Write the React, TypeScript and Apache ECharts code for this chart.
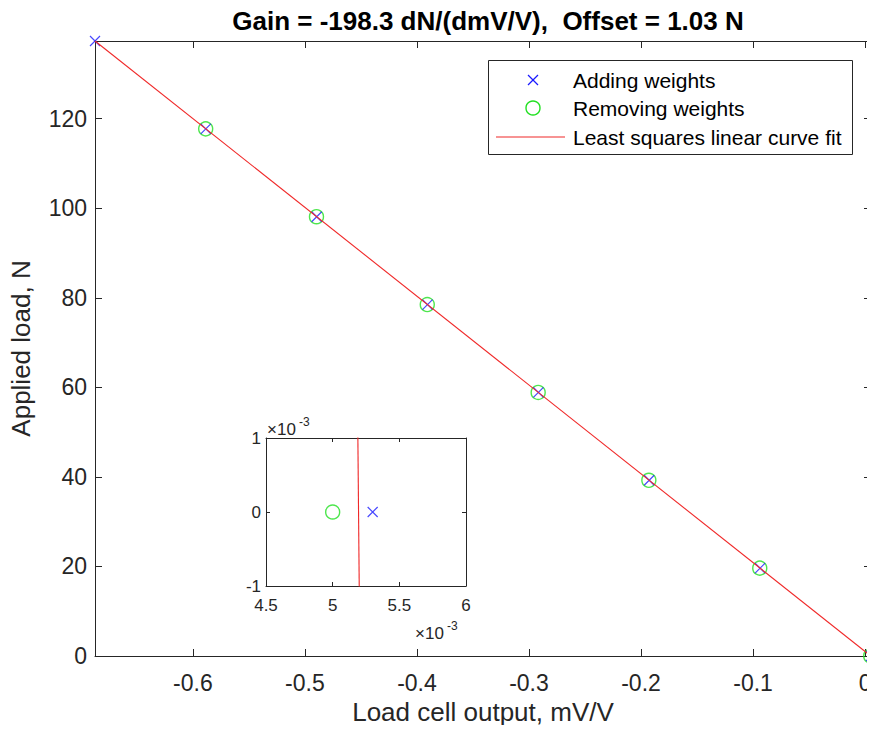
import React, { useEffect, useRef } from "react";
import * as echarts from "echarts";

// ---- data ----
const addX = [0.0053, -0.0937, -0.1927, -0.2916, -0.3906, -0.4895, -0.5885, -0.6874];
const addY = [0, 19.62, 39.24, 58.86, 78.48, 98.1, 117.72, 137.34];
const remX = [0.005, -0.094, -0.193, -0.2918, -0.3908, -0.4897, -0.5886];
const remY = [0, 19.62, 39.24, 58.86, 78.48, 98.1, 117.72];
const fitX = [-0.6874, 0.0053];
const fitY = [137.34, -0.021];

const mainXTicks = [-0.6, -0.5, -0.4, -0.3, -0.2, -0.1, 0];
const mainYTicks = [0, 20, 40, 60, 80, 100, 120];
const insetXTicks = [4.5, 5, 5.5, 6];
const insetYTicks = [-1, 0, 1];
const insetScale = 1e-3;

const titleText = "Gain = -198.3 dN/(dmV/V),  Offset = 1.03 N";
const xName = "Load cell output, mV/V";
const yName = "Applied load, N";
const seriesNames = ["Adding weights", "Removing weights", "Least squares linear curve fit"];
const expBase = "×10";
const expPow = "-3";

const FONT = "'Liberation Sans', Arial, Helvetica, sans-serif";
const AX = "#262626";
const BLUE = "#1a1aff";
const GREEN = "#22e022";
const RED = "#f02828";
const XSYM = "path://M0,0L10,10M10,0L0,10";

const pairs = (xs: number[], ys: number[]) => xs.map((x, i) => [x, ys[i]]);
const pick = (ticks: number[], scale = 1) => (v: number) => {
  const s = v / scale;
  const t = ticks.find((k) => Math.abs(k - s) < 1e-6);
  return t === undefined ? "" : String(t);
};

export default function App() {
  const ref = useRef<HTMLDivElement>(null);
  useEffect(() => {
    if (!ref.current) return;
    const chart = echarts.init(ref.current, null, { renderer: "svg" });

    const mainX = { min: Math.min(...addX), max: Math.max(...addX) };
    const mainY = { min: 0, max: Math.max(...addY) };
    const insetX = { min: insetXTicks[0] * insetScale, max: insetXTicks[insetXTicks.length - 1] * insetScale };
    const insetY = { min: insetYTicks[0] * insetScale, max: insetYTicks[insetYTicks.length - 1] * insetScale };

    const axLine = { show: true, onZero: false, lineStyle: { color: AX, width: 1 } };
    const mainTick = { show: true, inside: true, length: 7, lineStyle: { color: AX } };
    const insetTick = { show: true, inside: true, length: 4, lineStyle: { color: AX } };

    const scatterAdd = (xi: number, yi: number, size: number) => ({
      type: "scatter",
      name: seriesNames[0],
      xAxisIndex: xi,
      yAxisIndex: yi,
      data: pairs(addX, addY),
      symbol: XSYM,
      symbolSize: size,
      itemStyle: { color: "rgba(0,0,0,0)", borderColor: BLUE, borderWidth: 1.2 },
      clip: true,
      z: 3,
    });
    const scatterRem = (xi: number, yi: number, size: number) => ({
      type: "scatter",
      name: seriesNames[1],
      xAxisIndex: xi,
      yAxisIndex: yi,
      data: pairs(remX, remY),
      symbol: "circle",
      symbolSize: size,
      itemStyle: { color: "rgba(0,0,0,0)", borderColor: GREEN, borderWidth: 1.4 },
      clip: true,
      z: 2,
    });
    const fitLine = (xi: number, yi: number) => ({
      type: "line",
      name: seriesNames[2],
      xAxisIndex: xi,
      yAxisIndex: yi,
      data: pairs(fitX, fitY),
      showSymbol: false,
      symbol: "none",
      lineStyle: { color: RED, width: 1.1 },
      clip: true,
      z: 4,
    });

    const expLabel = (x: number, y: number) => [
      { type: "text", x, y, z: 100, style: { text: expBase, fontSize: 17, fontFamily: FONT, fill: AX, verticalAlign: "middle" } },
      { type: "text", x: x + 32, y: y - 7, z: 100, style: { text: expPow, fontSize: 12, fontFamily: FONT, fill: AX, verticalAlign: "middle" } },
    ];

    const lx = 488, ly = 60;
    chart.setOption({
      animation: false,
      backgroundColor: "#ffffff",
      textStyle: { fontFamily: FONT },
      title: {
        text: titleText,
        left: 483,
        top: 3,
        textAlign: "center",
        textStyle: { fontFamily: FONT, fontSize: 26, fontWeight: "bold", color: "#000" },
      },
      grid: [
        { left: 95, top: 41, width: 776, height: 615, containLabel: false },
        { left: 266, top: 438, width: 200, height: 148, containLabel: false, show: true, backgroundColor: "#fff", borderWidth: 0, z: 5 },
      ],
      xAxis: [
        {
          type: "value", gridIndex: 0, position: "bottom", ...mainX, splitNumber: 7,
          axisLine: axLine, axisTick: mainTick, splitLine: { show: false },
          axisLabel: { fontSize: 23, color: AX, margin: 15, formatter: pick(mainXTicks), showMinLabel: false },
          name: xName, nameLocation: "middle", nameGap: 33,
          nameTextStyle: { fontSize: 26, color: AX, fontFamily: FONT },
        },
        {
          type: "value", gridIndex: 0, position: "top", ...mainX, splitNumber: 7,
          axisLine: axLine, axisTick: mainTick, splitLine: { show: false }, axisLabel: { show: false },
        },
        {
          type: "value", gridIndex: 1, position: "bottom", ...insetX, interval: 0.5 * insetScale,
          axisLine: axLine, axisTick: insetTick, splitLine: { show: false },
          axisLabel: { fontSize: 17, color: AX, margin: 11, formatter: pick(insetXTicks, insetScale) },
          z: 6,
        },
        {
          type: "value", gridIndex: 1, position: "top", ...insetX, interval: 0.5 * insetScale,
          axisLine: axLine, axisTick: insetTick, splitLine: { show: false }, axisLabel: { show: false }, z: 6,
        },
      ],
      yAxis: [
        {
          type: "value", gridIndex: 0, position: "left", ...mainY, splitNumber: 7,
          axisLine: axLine, axisTick: mainTick, splitLine: { show: false },
          axisLabel: { fontSize: 23, color: AX, margin: 8, formatter: pick(mainYTicks) },
          name: yName, nameLocation: "middle", nameGap: 61,
          nameTextStyle: { fontSize: 26, color: AX, fontFamily: FONT },
        },
        {
          type: "value", gridIndex: 0, position: "right", ...mainY, splitNumber: 7,
          axisLine: axLine, axisTick: mainTick, splitLine: { show: false }, axisLabel: { show: false },
        },
        {
          type: "value", gridIndex: 1, position: "left", ...insetY, interval: 1 * insetScale,
          axisLine: axLine, axisTick: insetTick, splitLine: { show: false },
          axisLabel: { fontSize: 17, color: AX, margin: 5, formatter: pick(insetYTicks, insetScale) },
          z: 6,
        },
        {
          type: "value", gridIndex: 1, position: "right", ...insetY, interval: 1 * insetScale,
          axisLine: axLine, axisTick: insetTick, splitLine: { show: false }, axisLabel: { show: false }, z: 6,
        },
      ],
      series: [
        scatterAdd(0, 0, 10),
        scatterRem(0, 0, 14),
        fitLine(0, 0),
        { ...scatterAdd(2, 2, 10), z: 7 },
        { ...scatterRem(2, 2, 14), z: 7 },
        { ...fitLine(2, 2), z: 7 },
      ],
      graphic: [
        {
          type: "group", x: lx, y: ly, z: 100,
          children: [
            { type: "rect", shape: { x: 0.5, y: 0.5, width: 364, height: 94 }, style: { fill: "#fff", stroke: AX, lineWidth: 1 } },
            { type: "line", shape: { x1: 40, y1: 15, x2: 50, y2: 25 }, style: { stroke: BLUE, lineWidth: 1.2 } },
            { type: "line", shape: { x1: 50, y1: 15, x2: 40, y2: 25 }, style: { stroke: BLUE, lineWidth: 1.2 } },
            { type: "text", x: 85, y: 20, style: { text: seriesNames[0], fontSize: 21, fontFamily: FONT, fill: "#000", verticalAlign: "middle" } },
            { type: "circle", shape: { cx: 45, cy: 48, r: 7 }, style: { fill: "none", stroke: GREEN, lineWidth: 1.4 } },
            { type: "text", x: 85, y: 48, style: { text: seriesNames[1], fontSize: 21, fontFamily: FONT, fill: "#000", verticalAlign: "middle" } },
            { type: "line", shape: { x1: 8, y1: 77, x2: 77, y2: 77 }, style: { stroke: RED, lineWidth: 1.1 } },
            { type: "text", x: 85, y: 77, style: { text: seriesNames[2], fontSize: 21, fontFamily: FONT, fill: "#000", verticalAlign: "middle" } },
          ],
        },
        ...expLabel(267, 429),
        ...expLabel(415, 633),
      ],
    });
    return () => chart.dispose();
  }, []);
  return <div ref={ref} style={{ width: 875, height: 733, margin: -8 }} />;
}
